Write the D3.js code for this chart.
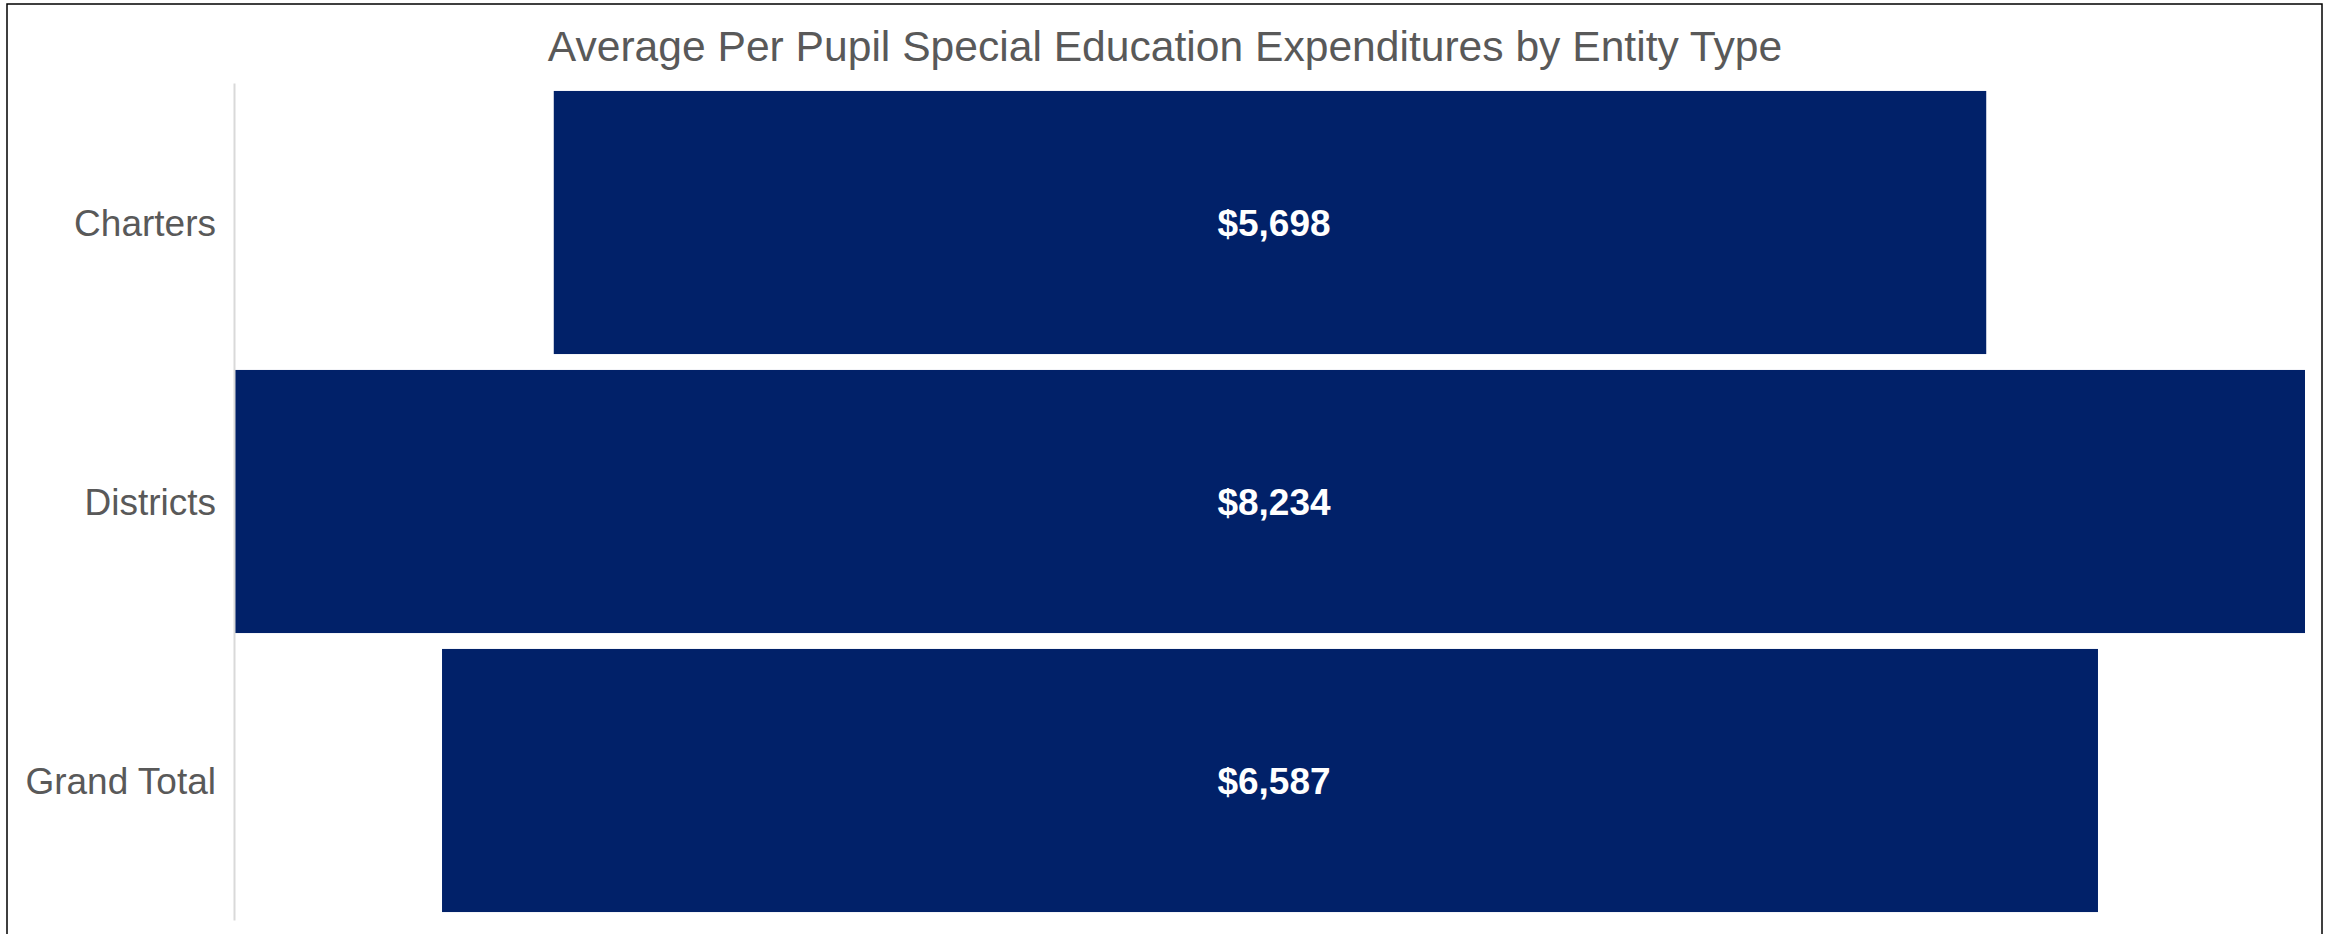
<!DOCTYPE html>
<html>
<head>
<meta charset="utf-8">
<script src="https://cdn.jsdelivr.net/npm/d3@7"></script>
<style>
  body { margin: 0; background: #fff; }
  svg { display: block; font-family: "Liberation Sans", Arial, sans-serif; }
  .axis .domain { stroke: #d9d9d9; stroke-width: 2; }
  .axis text { fill: #595959; font-size: 37px; }
</style>
</head>
<body>
<div id="chart"></div>
<script>
var width  = 2333;
var height = 934;

// data
var entities = ["Charters", "Districts", "Grand Total"];
var expenditures = [5698, 8234, 6587];
var title = "Average Per Pupil Special Education Expenditures by Entity Type";

var margin = {top: 83, right: 28, bottom: 14, left: 235};
var plotW = width - margin.left - margin.right;
var center = margin.left + plotW / 2;

var svg = d3.select("#chart").append("svg")
    .attr("width", width)
    .attr("height", height);

// frame
svg.append("rect")
    .attr("x", 7).attr("y", 4)
    .attr("width", 2315).attr("height", 940)
    .attr("fill", "none")
    .attr("stroke", "#000")
    .attr("stroke-width", 1.5);

var y = d3.scaleBand()
    .domain(entities)
    .range([margin.top, height - margin.bottom])
    .paddingInner(0.057)
    .paddingOuter(0.0285);

// width of a bar, centred on the plot
var w = d3.scaleLinear()
    .domain([0, d3.max(expenditures)])
    .range([0, plotW]);

var data = entities.map(function(d, i) { return {name: d, value: expenditures[i]}; });

svg.append("text")
    .attr("x", center - 105)
    .attr("y", 61)
    .attr("text-anchor", "middle")
    .attr("fill", "#595959")
    .style("font-size", "42.6px")
    .text(title);

svg.append("g").attr("class", "bars")
  .selectAll("rect").data(data)
  .enter().append("rect")
    .attr("x", function(d) { return center - w(d.value) / 2; })
    .attr("y", function(d) { return y(d.name); })
    .attr("width", function(d) { return w(d.value); })
    .attr("height", y.bandwidth())
    .attr("fill", "#012169");

svg.append("g").attr("class", "labels")
  .selectAll("text").data(data)
  .enter().append("text")
    .attr("x", center + 4)
    .attr("y", function(d) { return y(d.name) + y.bandwidth() / 2; })
    .attr("dy", "0.36em")
    .attr("text-anchor", "middle")
    .attr("fill", "#fff")
    .style("font-size", "37px")
    .style("font-weight", "bold")
    .text(function(d) { return d3.format("$,")(d.value); });

var yAxis = svg.append("g")
    .attr("class", "axis")
    .attr("transform", "translate(" + (margin.left - 1) + ",0)")
    .call(d3.axisLeft(y).tickSize(0).tickSizeOuter(0).tickPadding(18));
yAxis.selectAll("text").attr("dy", "0.36em");
</script>
</body>
</html>
